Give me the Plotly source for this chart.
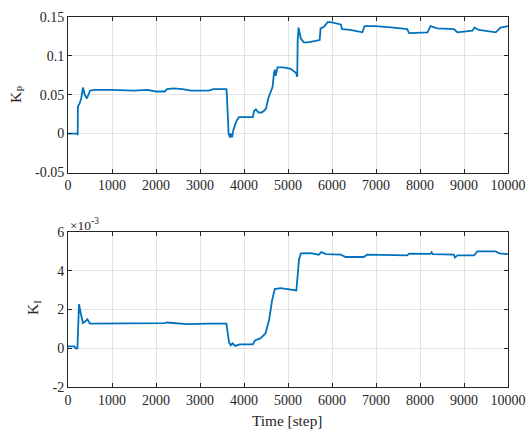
import plotly.graph_objects as go

# Proportional gain K_P over the run
kp_steps = [0, 200, 220, 225, 260, 300, 340, 380, 430, 500, 600, 1000, 1500, 1800, 2000,
            2200, 2250, 2400, 2600, 2800, 3200, 3300, 3600, 3610, 3650, 3680, 3700, 3730,
            3760, 3820, 3880, 3950, 4200, 4230, 4270, 4330, 4400, 4450, 4500, 4550, 4600,
            4650, 4680, 4700, 4720, 4760, 4900, 5060, 5180, 5210, 5220, 5240, 5290, 5360,
            5450, 5670, 5720, 5740, 5820, 5900, 5970, 6200, 6230, 6420, 6690, 6740, 6990,
            7400, 7710, 7750, 8170, 8240, 8390, 8770, 8850, 9190, 9240, 9340, 9720, 9830,
            10000]
kp_vals = [0, 0, -0.002, 0.035, 0.038, 0.045, 0.059, 0.050, 0.045, 0.055, 0.056, 0.056,
           0.055, 0.056, 0.054, 0.054, 0.057, 0.058, 0.057, 0.055, 0.055, 0.057, 0.057,
           0.050, 0.000, -0.005, 0.000, -0.005, 0.005, 0.015, 0.021, 0.021, 0.021, 0.029,
           0.031, 0.027, 0.027, 0.029, 0.032, 0.045, 0.052, 0.060, 0.077, 0.082, 0.074,
           0.085, 0.085, 0.083, 0.078, 0.073, 0.120, 0.136, 0.122, 0.117, 0.117, 0.119,
           0.120, 0.135, 0.137, 0.143, 0.143, 0.140, 0.134, 0.133, 0.130, 0.138, 0.138,
           0.136, 0.134, 0.129, 0.130, 0.138, 0.135, 0.134, 0.130, 0.132, 0.136, 0.133,
           0.130, 0.136, 0.138]

# Integral gain K_I (in units of 1e-3)
ki_steps = [0, 150, 170, 215, 230, 250, 300, 340, 390, 440, 500, 1000, 2200, 2250, 2700,
            3200, 3600, 3660, 3700, 3740, 3800, 3900, 4200, 4250, 4380, 4490, 4570, 4640,
            4700, 4830, 5190, 5250, 5290, 5510, 5700, 5760, 5860, 6200, 6310, 6720, 6800,
            7710, 7750, 8240, 8265, 8290, 8770, 8795, 8850, 9230, 9300, 9720, 9800, 10000]
ki_vals = [0.1, 0.1, 0.0, 0.0, 1.0, 2.27, 1.7, 1.3, 1.38, 1.5, 1.27, 1.27, 1.3, 1.33,
           1.25, 1.27, 1.27, 0.3, 0.15, 0.25, 0.12, 0.2, 0.2, 0.4, 0.52, 0.77, 1.46, 2.5,
           3.05, 3.1, 2.98, 4.57, 4.9, 4.91, 4.83, 4.96, 4.86, 4.83, 4.71, 4.71, 4.83,
           4.79, 4.88, 4.87, 4.96, 4.86, 4.83, 4.68, 4.79, 4.79, 5.0, 5.0, 4.9, 4.86]

x_ticks = list(range(0, 10001, 1000))
x_ticklabels = [str(v) for v in x_ticks]
kp_ticks = [-0.05, 0, 0.05, 0.1, 0.15]
kp_ticklabels = ["-0.05", "0", "0.05", "0.1", "0.15"]
ki_ticks = [-2, 0, 2, 4, 6]
ki_ticklabels = ["-2", "0", "2", "4", "6"]

W, H = 527, 430
LINE = "#0072BD"
AX = "#262626"
GRID = "#e3e3e3"
FONT = "Liberation Serif"

fig = go.Figure()
fig.add_trace(go.Scatter(x=kp_steps, y=kp_vals, mode="lines",
                         line=dict(color=LINE, width=1.8), xaxis="x", yaxis="y"))
fig.add_trace(go.Scatter(x=ki_steps, y=ki_vals, mode="lines",
                         line=dict(color=LINE, width=1.8), xaxis="x2", yaxis="y2"))

axis_common = dict(showline=True, linecolor=AX, linewidth=1, mirror="ticks",
                   ticks="inside", ticklen=4, tickcolor=AX, showgrid=True,
                   gridcolor=GRID, gridwidth=1, zeroline=False, automargin=False,
                   tickfont=dict(family=FONT, size=14, color=AX))

xdom = [68 / W, 508 / W]
fig.update_layout(
    width=W, height=H, autosize=False, margin=dict(l=0, r=0, t=0, b=0, pad=0),
    font=dict(family=FONT, size=14, color=AX),
    paper_bgcolor="white", plot_bgcolor="white", showlegend=False,
    xaxis=dict(domain=xdom, anchor="y", range=[0, 10000], tickvals=x_ticks,
               ticktext=x_ticklabels, **axis_common),
    yaxis=dict(domain=[1 - 172.5 / H, 1 - 16.7 / H], anchor="x", range=[-0.05, 0.15],
               tickvals=kp_ticks, ticktext=kp_ticklabels, **axis_common),
    xaxis2=dict(domain=xdom, anchor="y2", range=[0, 10000], tickvals=x_ticks,
                ticktext=x_ticklabels, **axis_common),
    yaxis2=dict(domain=[1 - 387 / H, 1 - 232 / H], anchor="x2", range=[-2, 6],
                tickvals=ki_ticks, ticktext=ki_ticklabels, **axis_common),
)

ann_font = dict(family=FONT, size=15.5, color=AX)
fig.add_annotation(x=17 / W, y=1 - 95 / H, xref="paper", yref="paper", showarrow=False,
                   xanchor="center", yanchor="middle",
                   text="K<sub>P</sub>", textangle=-90, font=ann_font)
fig.add_annotation(x=33 / W, y=1 - 308 / H, xref="paper", yref="paper", showarrow=False,
                   xanchor="center", yanchor="middle",
                   text="K<sub>I</sub>", textangle=-90, font=ann_font)
fig.add_annotation(x=68 / W, y=1 - 224 / H, xref="paper", yref="paper", showarrow=False,
                   xanchor="left", yanchor="middle", text="×10<sup>-3</sup>",
                   font=dict(family=FONT, size=13.5, color=AX))
fig.add_annotation(x=287 / W, y=1 - 420 / H, xref="paper", yref="paper", showarrow=False,
                   xanchor="center", yanchor="middle",
                   text="Time [step]", font=dict(family=FONT, size=15.3, color=AX))

fig.write_html("out.html", config={"responsive": False})
